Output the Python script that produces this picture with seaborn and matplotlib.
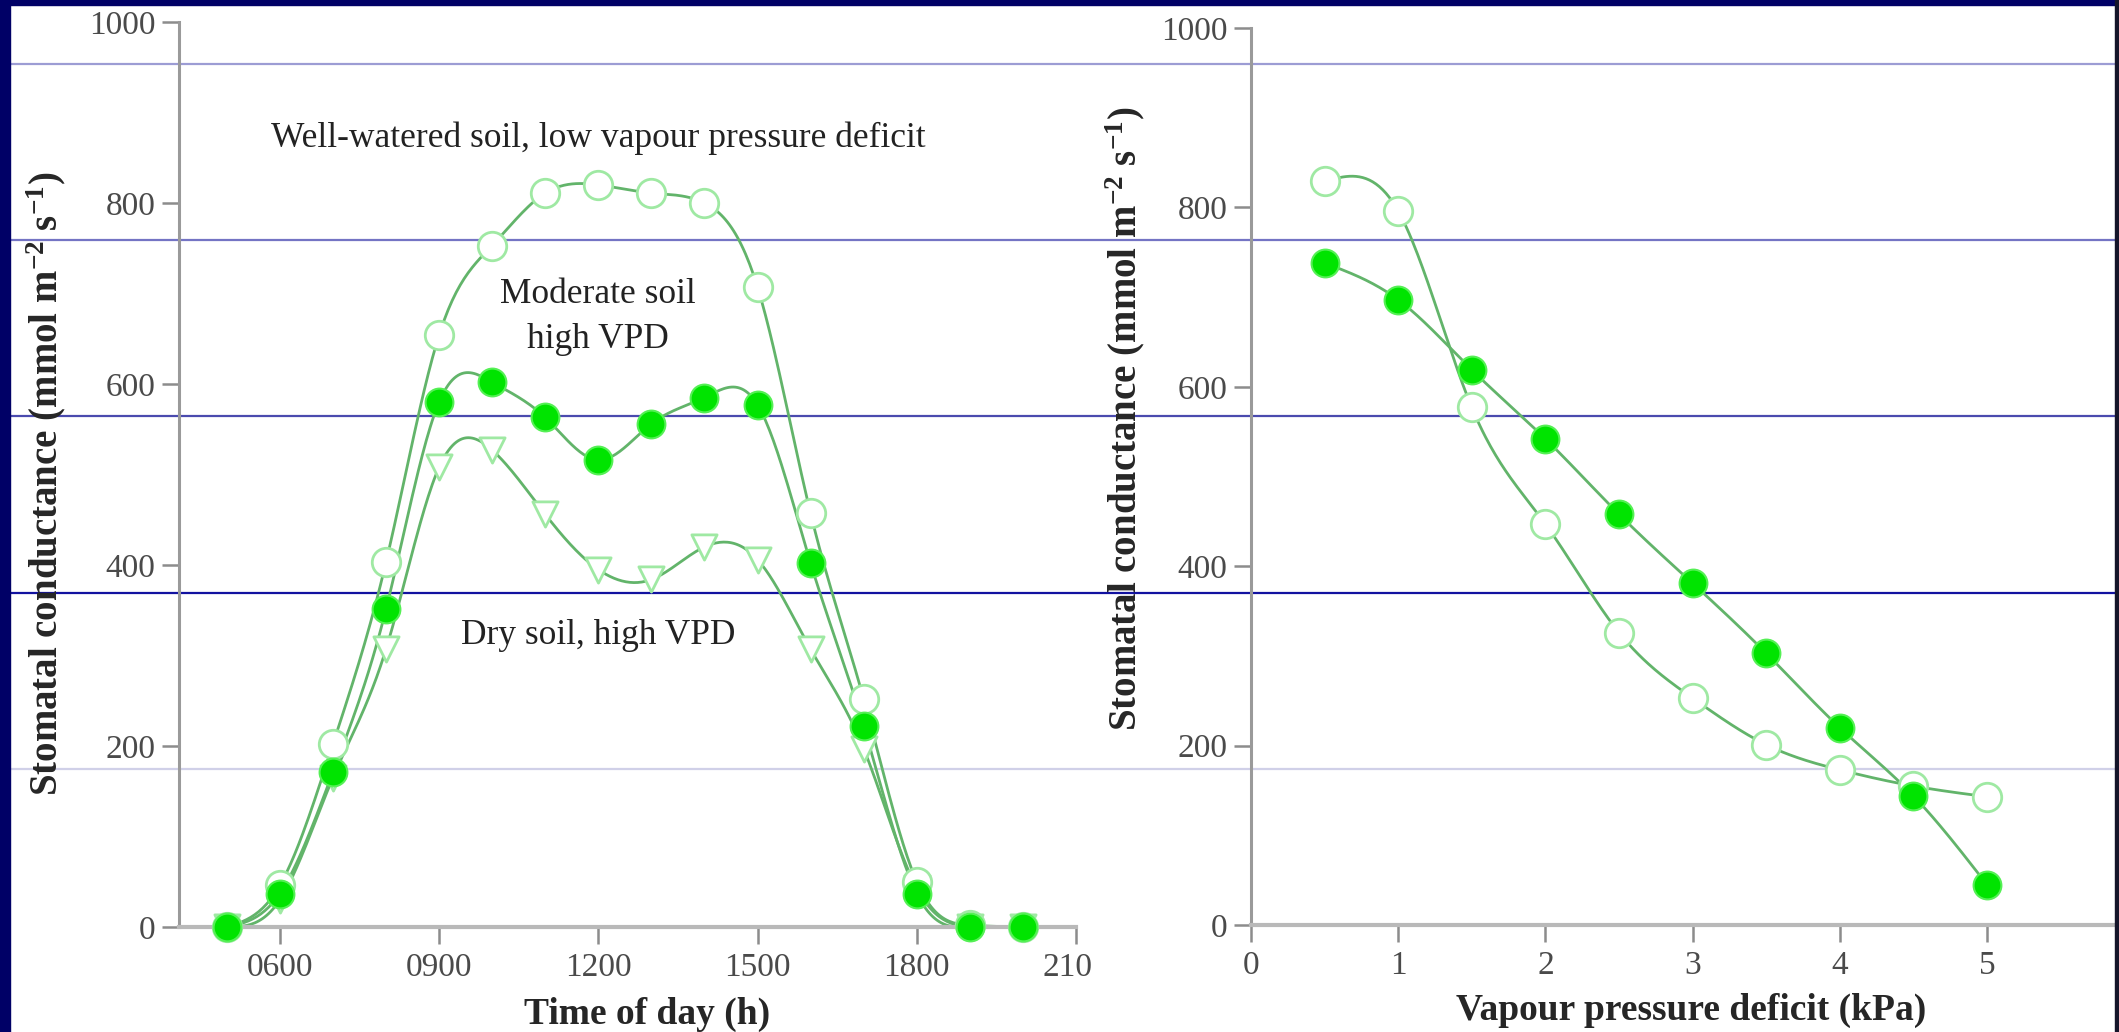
import numpy as np
import pandas as pd
import seaborn as sns
import matplotlib.pyplot as plt
from matplotlib.lines import Line2D
from matplotlib.patches import Rectangle
from matplotlib.transforms import Bbox, TransformedBbox

# -------------------------
# Data
# -------------------------
hours = [500, 600, 700, 800, 900, 1000, 1100, 1200, 1300, 1400,
         1500, 1600, 1700, 1800, 1900, 2000]
well_watered = [0, 46, 202, 403, 654, 753, 811, 820, 811, 800,
                707, 457, 252, 50, 2, 0]
moderate_soil = [0, 37, 171, 351, 580, 602, 563, 516, 556, 585,
                 577, 402, 222, 37, 0, 0]
dry_soil = [0, 30, 165, 307, 508, 527, 456, 395, 384, 420,
            406, 307, 197, 43, 0, 0]
hour_ticks = [600, 900, 1200, 1500, 1800, 2100]
hour_labels = ["0600", "0900", "1200", "1500", "1800", "2100"]

vpd = [0.5, 1.0, 1.5, 2.0, 2.5, 3.0, 3.5, 4.0, 4.5, 5.0]
gs_open = [829, 796, 577, 447, 326, 253, 201, 173, 155, 143]
gs_filled = [738, 697, 619, 542, 458, 381, 303, 220, 144, 45]
vpd_ticks = [0, 1, 2, 3, 4, 5]

ylabel = r"Stomatal conductance (mmol m$^{-2}$ s$^{-1}$)"

LINE = "#62b46a"
FILLED = "#00e400"
OPEN_EDGE = "#9fe9a3"


def smooth(x, y, n=400):
    # natural cubic spline used only to draw the curve through the points
    x = np.asarray(x, float)
    y = np.asarray(y, float)
    h = np.diff(x)
    k = len(x)
    A = np.zeros((k, k))
    b = np.zeros(k)
    A[0, 0] = A[-1, -1] = 1
    for i in range(1, k - 1):
        A[i, i - 1] = h[i - 1]
        A[i, i] = 2 * (h[i - 1] + h[i])
        A[i, i + 1] = h[i]
        b[i] = 6 * ((y[i + 1] - y[i]) / h[i] - (y[i] - y[i - 1]) / h[i - 1])
    M = np.linalg.solve(A, b)
    xs = np.linspace(x[0], x[-1], n)
    j = np.clip(np.searchsorted(x, xs) - 1, 0, k - 2)
    t0 = x[j + 1] - xs
    t1 = xs - x[j]
    hj = h[j]
    ys = ((M[j] * t0 ** 3 + M[j + 1] * t1 ** 3) / (6 * hj)
          + (y[j] / hj - M[j] * hj / 6) * t0
          + (y[j + 1] / hj - M[j + 1] * hj / 6) * t1)
    return xs, ys


def draw_series(ax, x, y, kind):
    xs, ys = smooth(x, y)
    sns.lineplot(x=xs, y=ys, ax=ax, color=LINE, lw=2, sort=False,
                 estimator=None, zorder=2)
    if kind == "filled":
        sns.scatterplot(x=x, y=y, ax=ax, s=400, color=FILLED,
                        edgecolor="#55f055", linewidth=1.5, zorder=5, clip_on=False)
    elif kind == "open":
        sns.scatterplot(x=x, y=y, ax=ax, s=420, color="white",
                        edgecolor=OPEN_EDGE, linewidth=2, zorder=4, clip_on=False)
    else:
        sns.scatterplot(x=x, y=y, ax=ax, s=330, marker="v", color="white",
                        edgecolor=OPEN_EDGE, linewidth=2, zorder=3, clip_on=False)


# -------------------------
# Styling
# -------------------------
sns.set_style("ticks")
plt.rcParams["font.family"] = ["Liberation Serif", "DejaVu Serif"]
plt.rcParams["mathtext.fontset"] = "custom"
plt.rcParams["mathtext.bf"] = "Liberation Serif:bold"
plt.rcParams["mathtext.rm"] = "Liberation Serif:bold"
plt.rcParams["mathtext.default"] = "bf"

W, H = 2119, 1032
fig = plt.figure(figsize=(W / 100, H / 100), dpi=100)
fig.patch.set_facecolor("white")

# background slide lines
for ypx, c in zip([64, 240, 416, 593, 769],
                  ["#9c9cd4", "#7474c4", "#4a4aae", "#1212a0", "#d0d0e8"]):
    fig.add_artist(Line2D([0, 1], [1 - ypx / H] * 2, transform=fig.transFigure,
                          color=c, lw=1.6, zorder=0.5))

ax1 = fig.add_axes([179 / W, 1 - 927 / H, 897 / W, 905 / H])
ax2 = fig.add_axes([1251 / W, 1 - 925 / H, 864 / W, 897 / H])

for ax in (ax1, ax2):
    ax.set_zorder(1)
    ax.set_facecolor("none")
    sns.despine(ax=ax)
    ax.spines["left"].set_color("#9a9a9a")
    ax.spines["left"].set_linewidth(2.2)
    ax.spines["bottom"].set_color("#b9b9b9")
    ax.spines["bottom"].set_linewidth(3)
    ax.tick_params(axis="both", direction="out", length=12, width=1.8,
                   color="#8c8c8c", labelsize=24, labelcolor="#4a4a4a")
    ax.tick_params(axis="y", pad=5)
    ax.tick_params(axis="x", pad=6)
    ax.set_ylim(0, 1000)
    ax.set_yticks([0, 200, 400, 600, 800, 1000])

# -------------------------
# Left: diurnal course
# -------------------------
draw_series(ax1, hours, dry_soil, "tri")
draw_series(ax1, hours, well_watered, "open")
draw_series(ax1, hours, moderate_soil, "filled")
ax1.set_xlim(410, 2100)
ax1.set_xticks(hour_ticks)
ax1.set_xticklabels(hour_labels)

ax1.text(1200, 872, "Well-watered soil, low vapour pressure deficit",
         ha="center", va="center", fontsize=25.5, color="#222222")
ax1.text(1200, 674, "Moderate soil\nhigh VPD", ha="center", va="center",
         fontsize=25.5, color="#222222", linespacing=1.45)
ax1.text(1200, 322, "Dry soil, high VPD", ha="center", va="center",
         fontsize=25.5, color="#222222")

ax1.set_xlabel("Time of day (h)", fontsize=27, fontweight="bold")
ax1.xaxis.set_label_coords(0.522, -0.077)
ax1.set_ylabel(ylabel, fontsize=28, fontweight="bold")
ax1.yaxis.set_label_coords(-0.124, 0.49)

# -------------------------
# Right: response to VPD
# -------------------------
draw_series(ax2, vpd, gs_open, "open")
draw_series(ax2, vpd, gs_filled, "filled")
ax2.set_xlim(0, 5.87)
ax2.set_xticks(vpd_ticks)

ax2.set_xlabel("Vapour pressure deficit (kPa)", fontsize=27, fontweight="bold")
ax2.xaxis.set_label_coords(0.509, -0.076)
ax2.set_ylabel(ylabel, fontsize=28, fontweight="bold")
ax2.yaxis.set_label_coords(-0.12, 0.565)

# the last time label is cut by the panel edge in the original
clip = TransformedBbox(Bbox([[0, 0], [1093 / W, 1]]), fig.transFigure)
last = ax1.get_xticklabels()[-1]
last.set_clip_box(clip)
last.set_clip_on(True)

# slide border
fig.add_artist(Rectangle((0, 0), 10 / W, 1, transform=fig.transFigure,
                         color="#000066", zorder=10))
fig.add_artist(Rectangle((0, 1 - 5 / H), 1, 5 / H, transform=fig.transFigure,
                         color="#000066", zorder=10))
fig.add_artist(Rectangle((1 - 4 / W, 0), 4 / W, 1, transform=fig.transFigure,
                         color="#15152a", zorder=10))

fig.savefig("out.png", dpi=100)
plt.close(fig)
